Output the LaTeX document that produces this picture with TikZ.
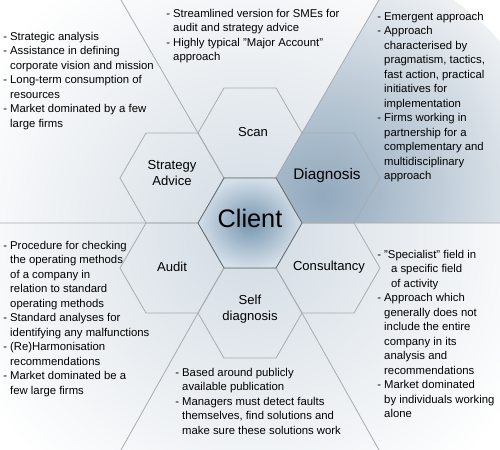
\documentclass[tikz,border=0pt]{standalone}
\usepackage{fontspec}
\setmainfont{Liberation Sans}
\usetikzlibrary{shapes.geometric}
\definecolor{hexline}{RGB}{168,172,176}
\definecolor{clientline}{RGB}{96,104,112}
\definecolor{haze}{RGB}{210,219,227}
\definecolor{mist}{RGB}{146,169,189}
\definecolor{frost}{RGB}{238,241,244}
\definecolor{clientcore}{RGB}{118,150,176}
\definecolor{clientrim}{RGB}{212,223,232}
\newcommand{\hangin}{\hspace*{5.2pt}}

\begin{document}
\begin{tikzpicture}[x=0.75pt,y=0.75pt,yscale=-1,xscale=1,
  hexcell/.style={regular polygon, regular polygon sides=6, minimum size=78pt, inner sep=0pt, outer sep=0pt, draw=hexline, line width=0.6pt},
  hexlabel/.style={font=\fontsize{9.8}{11.8}\selectfont, align=center, inner sep=0pt},
  blurb/.style={font=\fontsize{8.5}{10.85}\selectfont, align=left, anchor=north west, inner sep=0pt},
  edgeline/.style={draw=hexline, line width=0.6pt}]
\useasboundingbox (0,0) rectangle (500,450);
\clip (0,0) rectangle (500,450);

%Shape: Background
\fill [white] (0,0) rectangle (500,450);
\shade [inner color=haze, outer color=white] (250,235) circle (310);
%Shape: Shaded sector behind Diagnosis
\begin{scope}
\clip (379,0) -- (500,0) -- (500,223) -- (302,223) -- (276,178) -- (302,133) -- cycle;
\shade [inner color=mist, outer color=frost] (322,195) circle (235);
\end{scope}

%Shape: Hexagons
\node [hexcell] (scan) at (250,133) {};
\node [hexcell] (strategy) at (172,178) {};
\node [hexcell] (diagnosis) at (328,178) {};
\node [hexcell] (audit) at (172,268) {};
\node [hexcell] (consultancy) at (328,268) {};
\node [hexcell] (self) at (250,313) {};
\node [hexcell, draw=clientline, inner color=clientcore, outer color=clientrim] (client) at (250,223) {};

%Straight Lines
\coordinate (topLeftEnd) at (121,0);
\coordinate (topRightEnd) at (379,0);
\coordinate (bottomLeftEnd) at (121,450);
\coordinate (bottomRightEnd) at (379,450);
\coordinate (leftEnd) at (0,223);
\coordinate (rightEnd) at (500,223);
\draw [edgeline] (strategy.60) -- (topLeftEnd);
\draw [edgeline] (diagnosis.120) -- (topRightEnd);
\draw [edgeline] (audit.-60) -- (bottomLeftEnd);
\draw [edgeline] (consultancy.-120) -- (bottomRightEnd);
\draw [edgeline] (strategy.-120) -- (leftEnd);
\draw [edgeline] (diagnosis.-60) -- (rightEnd);

% Text Node
\node [hexlabel] (scanText) at (253,132) {Scan};
% Text Node
\node [hexlabel] (strategyText) at (172,173) {Strategy\\Advice};
% Text Node
\node [hexlabel, font=\fontsize{11.5}{13}\selectfont] (diagnosisText) at (327,176) {Diagnosis};
% Text Node
\node [hexlabel] (auditText) at (172,267) {Audit};
% Text Node
\node [hexlabel] (consultancyText) at (329,267) {Consultancy};
% Text Node
\node [hexlabel] (selfText) at (250,309) {Self\\diagnosis};
% Text Node
\node [hexlabel, font=\fontsize{19}{22}\selectfont] (clientText) at (250,218) {Client};

% Text Node
\node [blurb] (strategyNotes) at (3,32) {- Strategic analysis\\- Assistance in defining\\\hangin corporate vision and mission\\- Long-term consumption of\\\hangin resources\\- Market dominated by a few\\\hangin large firms};
% Text Node
\node [blurb] (scanNotes) at (166,9) {- Streamlined version for SMEs for\\\hangin audit and strategy advice\\- Highly typical "Major Account"\\\hangin approach};
% Text Node
\node [blurb] (diagnosisNotes) at (377,12) {- Emergent approach\\- Approach\\\hangin characterised by\\\hangin pragmatism, tactics,\\\hangin fast action, practical\\\hangin initiatives for\\\hangin implementation\\- Firms working in\\\hangin partnership for a\\\hangin complementary and\\\hangin multidisciplinary\\\hangin approach};
% Text Node
\node [blurb] (auditNotes) at (3,241) {- Procedure for checking\\\hangin the operating methods\\\hangin of a company in\\\hangin relation to standard\\\hangin operating methods\\- Standard analyses for\\\hangin identifying any malfunctions\\- (Re)Harmonisation\\\hangin recommendations\\- Market dominated be a\\\hangin few large firms};
% Text Node
\node [blurb] (consultancyNotes) at (377,250) {- "Specialist" field in\\\hangin\hangin a specific field\\\hangin\hangin of activity\\- Approach which\\\hangin generally does not\\\hangin include the entire\\\hangin company in its\\\hangin analysis and\\\hangin recommendations\\- Market dominated\\\hangin by individuals working\\\hangin alone};
% Text Node
\node [blurb] (selfNotes) at (175,368) {- Based around publicly\\\hangin available publication\\- Managers must detect faults\\\hangin themselves, find solutions and\\\hangin make sure these solutions work};

\end{tikzpicture}
\end{document}
